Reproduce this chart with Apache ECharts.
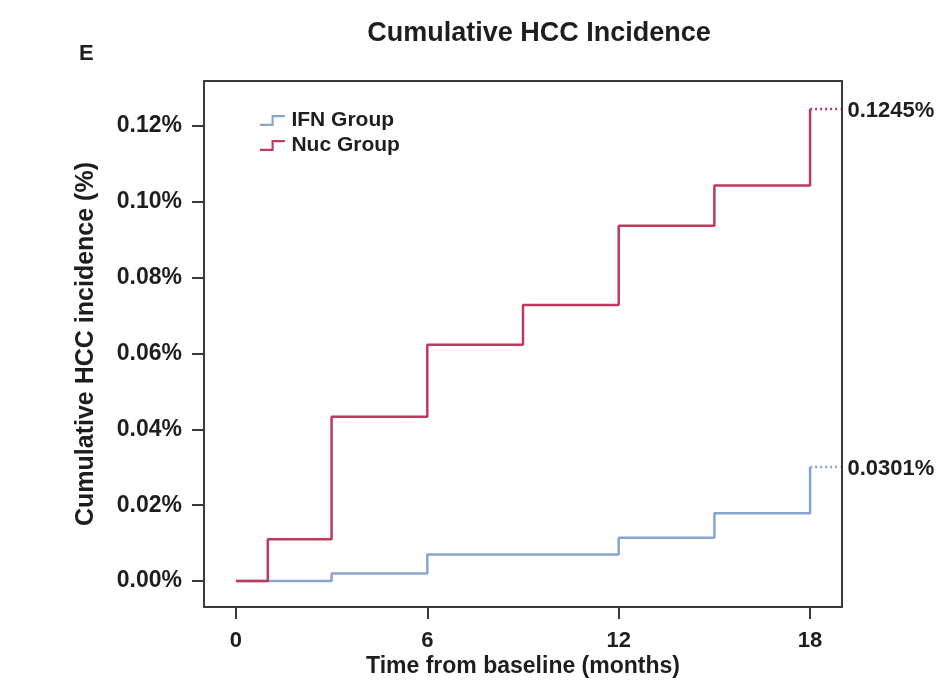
<!DOCTYPE html>
<html>
<head>
<meta charset="utf-8">
<script src="https://cdn.jsdelivr.net/npm/echarts@6/dist/echarts.min.js"></script>
<style>html,body{margin:0;padding:0;background:#fff;}#chart{width:951px;height:682px;}</style>
</head>
<body>
<div id="chart"></div>
<script>
// Data (values in %)
const ifnTimes = [0, 3, 6, 12, 15, 18];
const ifnValues = [0, 0.0020, 0.0070, 0.0114, 0.0179, 0.0301];
const nucTimes = [0, 1, 3, 6, 9, 12, 15, 18];
const nucValues = [0, 0.0110, 0.0433, 0.0623, 0.0728, 0.0937, 0.1043, 0.1245];
const extendTo = 18.95;
const xTicks = [0, 6, 12, 18];
const yTicks = [0, 0.02, 0.04, 0.06, 0.08, 0.10, 0.12];
const seriesNames = ['IFN Group', 'Nuc Group'];
const colors = ['#88a4d0', '#bd3a5e'];

const FONT = 'Liberation Sans, Arial, Helvetica, sans-serif';
const zip = (xs, ys) => xs.map((x, i) => [x, ys[i]]);
const lastOf = a => a[a.length - 1];

const stepIcon = 'path://M0,10 L13,10 L13,0 L28,0 L28,2.4 L15.4,2.4 L15.4,12.4 L0,12.4 Z';

function extSeries(name, times, values, color, z) {
  return {
    name: name, type: 'line', symbol: 'none', z: z, silent: true,
    lineStyle: { color: color, width: 2.5, type: [2, 3] },
    data: [[lastOf(times), lastOf(values)], [extendTo, lastOf(values)]],
    endLabel: { show: true, distance: 7, offset: [0, 2], formatter: () => lastOf(values).toFixed(4) + '%',
      fontFamily: FONT, fontSize: 22, fontWeight: 'bold', color: '#1e1e1e' }
  };
}

const chart = echarts.init(document.getElementById('chart'));
chart.setOption({
  backgroundColor: '#fff',
  animation: false,
  title: [
    { text: 'Cumulative HCC Incidence', left: 534, top: 15, textAlign: 'center',
      textStyle: { fontFamily: FONT, fontSize: 27, fontWeight: 'bold', color: '#1e1e1e' } },
    { text: 'E', left: 74, top: 38,
      textStyle: { fontFamily: FONT, fontSize: 22, fontWeight: 'bold', color: '#1e1e1e' } }
  ],
  legend: {
    data: seriesNames.map((n, i) => ({ name: n, icon: stepIcon, itemStyle: { color: colors[i], borderWidth: 0 } })),
    orient: 'vertical', left: 255, top: 105, itemWidth: 28, itemHeight: 11, itemGap: 4,
    textStyle: { fontFamily: FONT, fontSize: 21, fontWeight: 'bold', color: '#1e1e1e', padding: [0, 0, 0, 0] }
  },
  grid: { left: 204, right: 109, top: 81, bottom: 75, outerBoundsMode: 'none', containLabel: false,
    show: true, borderColor: '#3a3a3a', borderWidth: 2, backgroundColor: 'transparent' },
  xAxis: {
    type: 'value', min: -1, max: 19,
    name: 'Time from baseline (months)', nameLocation: 'middle', nameGap: 48, nameMoveOverlap: false,
    nameTextStyle: { fontFamily: FONT, fontSize: 23, fontWeight: 'bold', color: '#1e1e1e' },
    axisLine: { show: false, onZero: false },
    splitLine: { show: false },
    axisTick: { show: true, length: 12, lineStyle: { color: '#3a3a3a', width: 2 }, customValues: xTicks },
    axisLabel: { customValues: xTicks, margin: 23, fontFamily: FONT, fontSize: 22, fontWeight: 'bold', color: '#1e1e1e' }
  },
  yAxis: {
    type: 'value', min: -0.00686, max: 0.1319,
    name: 'Cumulative HCC incidence (%)', nameLocation: 'middle', nameGap: 105, nameMoveOverlap: false,
    nameTextStyle: { fontFamily: FONT, fontSize: 25, fontWeight: 'bold', color: '#1e1e1e' },
    axisLine: { show: false, onZero: false },
    splitLine: { show: false },
    axisTick: { show: true, length: 12, lineStyle: { color: '#3a3a3a', width: 2 }, customValues: yTicks },
    axisLabel: { customValues: yTicks, margin: 22, fontFamily: FONT, fontSize: 23, fontWeight: 'bold', color: '#1e1e1e',
      formatter: v => v.toFixed(2) + '%' }
  },
  series: [
    { name: seriesNames[0], type: 'line', step: 'end', showSymbol: false, symbol: 'none', z: 3,
      color: colors[0], lineStyle: { color: colors[0], width: 2.5 },
      data: zip(ifnTimes, ifnValues) },
    { name: seriesNames[1], type: 'line', step: 'end', showSymbol: false, symbol: 'none', z: 4,
      color: colors[1], lineStyle: { color: colors[1], width: 2.5 },
      data: zip(nucTimes, nucValues) },
    extSeries('ifn-ext', ifnTimes, ifnValues, colors[0], 3),
    extSeries('nuc-ext', nucTimes, nucValues, colors[1], 4)
  ]
});
</script>
</body>
</html>
